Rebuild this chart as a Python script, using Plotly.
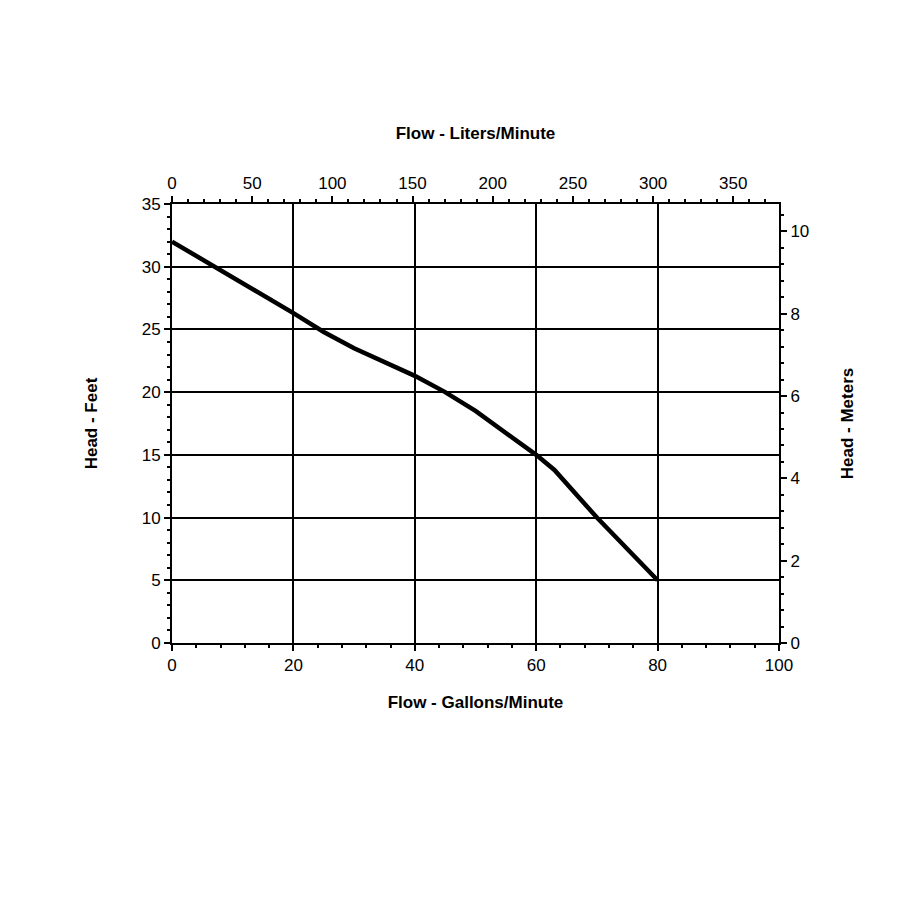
import plotly.graph_objects as go

# Pump curve
flow_gpm = [0, 10, 20, 25, 30, 40, 45, 50, 55, 60, 63, 70, 80]
head_ft = [32, 29.2, 26.3, 24.8, 23.5, 21.3, 20, 18.5, 16.8, 15, 13.8, 10, 5]

GPM_TO_LPM = 3.785
FT_TO_M = 0.3048

fnt = dict(family="Liberation Sans, Arial", size=17, color="black")

fig = go.Figure()
fig.add_trace(go.Scatter(x=flow_gpm, y=head_ft, mode="lines",
                         line=dict(color="black", width=4.5), showlegend=False))
# invisible trace so the secondary axes render
fig.add_trace(go.Scatter(x=[0], y=[0], xaxis="x2", yaxis="y2", mode="markers",
                         marker=dict(opacity=0), showlegend=False, hoverinfo="skip"))

tick_common = dict(showline=True, linecolor="black", linewidth=2, ticks="outside",
                   tickcolor="black", tickwidth=2, ticklen=6, tickfont=fnt,
                   zeroline=False)

fig.update_layout(
    width=900, height=900,
    paper_bgcolor="white", plot_bgcolor="white",
    margin=dict(l=164, r=129, t=196, b=265),
    xaxis=dict(range=[0, 100], dtick=20, showgrid=True, gridcolor="black", gridwidth=2,
               mirror=True,
               minor=dict(dtick=4, ticks="outside", ticklen=3, tickcolor="black", showgrid=False),
               title=dict(text="<b>Flow - Gallons/Minute</b>", font=fnt, standoff=22),
               **tick_common),
    yaxis=dict(range=[0, 35], dtick=5, showgrid=True, gridcolor="black", gridwidth=2,
               mirror=True,
               minor=dict(dtick=1, ticks="outside", ticklen=3, tickcolor="black", showgrid=False),
               title=dict(text="<b>Head - Feet</b>", font=fnt, standoff=40),
               **tick_common),
    xaxis2=dict(range=[0, 100 * GPM_TO_LPM], dtick=50, overlaying="x", side="top",
                showgrid=False,
                minor=dict(dtick=10, ticks="outside", ticklen=3, tickcolor="black"),
                title=dict(text="<b>Flow - Liters/Minute</b>", font=fnt, standoff=30),
                **tick_common),
    yaxis2=dict(range=[0, 35 * FT_TO_M], dtick=2, overlaying="y", side="right",
                showgrid=False,
                minor=dict(dtick=0.4, ticks="outside", ticklen=3, tickcolor="black"),
                title=dict(text="<b>Head - Meters</b>", font=fnt, standoff=33),
                **tick_common),
)

fig.write_html("out.html")
